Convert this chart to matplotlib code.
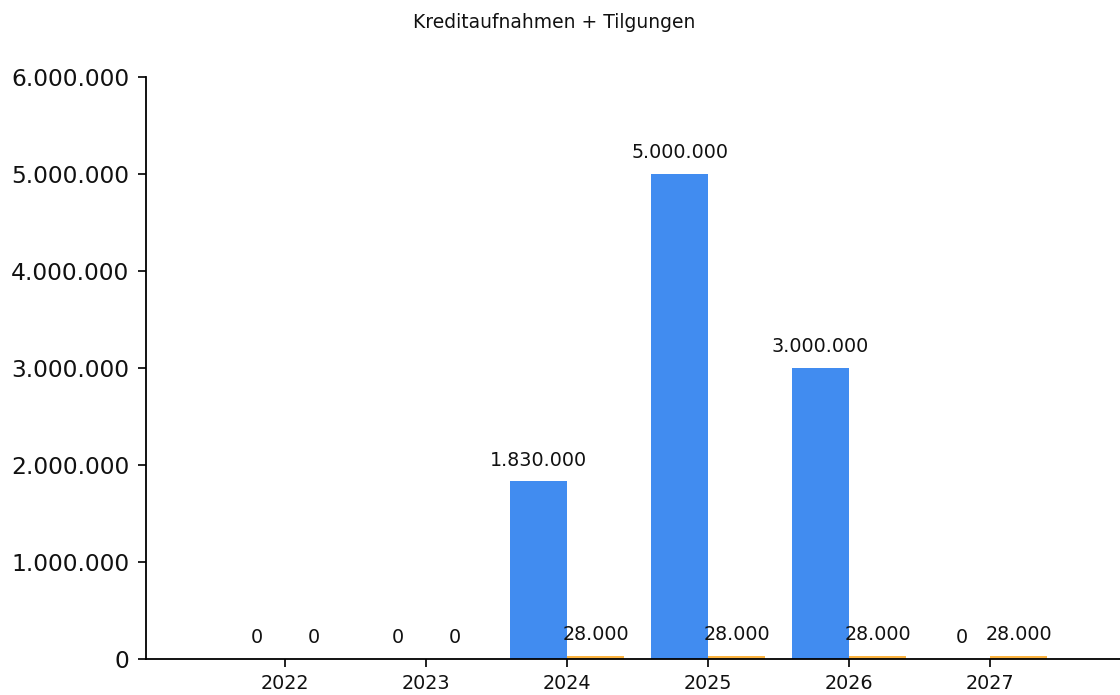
import numpy as np
import matplotlib
matplotlib.use("Agg")
import matplotlib.pyplot as plt
from matplotlib.ticker import FuncFormatter

# Daten
jahre = ["2022", "2023", "2024", "2025", "2026", "2027"]
kreditaufnahmen = [0, 0, 1830000, 5000000, 3000000, 0]
tilgungen = [0, 0, 28000, 28000, 28000, 28000]
y_ticks = [0, 1000000, 2000000, 3000000, 4000000, 5000000, 6000000]

blau = "#418CF0"
orange = "#FCB441"


def de_format(v, pos=None):
    # deutsche Tausendertrennung
    return f"{int(round(v)):,}".replace(",", ".")


fig = plt.figure(figsize=(11.2, 6.95), dpi=100)
ax = fig.add_axes([0.1304, 0.0518, 0.8696, 0.8374])

x = np.arange(len(jahre))
breite = 0.405
b1 = ax.bar(x - breite / 2, kreditaufnahmen, breite, color=blau)
b2 = ax.bar(x + breite / 2, tilgungen, breite, color=orange)

# Beschriftungen über den Balken
for bars, werte in [(b1, kreditaufnahmen), (b2, tilgungen)]:
    for rect, w in zip(bars, werte):
        ax.annotate(de_format(w), (rect.get_x() + rect.get_width() / 2, w),
                    xytext=(0, 8.5), textcoords="offset points",
                    ha="center", va="bottom", fontsize=13.8, color="#111111")

ax.set_xlim(-0.985, 5.92)
ax.set_ylim(0, 6000000)
ax.set_yticks(y_ticks)
ax.yaxis.set_major_formatter(FuncFormatter(de_format))
ax.set_xticks(x)
ax.set_xticklabels(jahre)

ax.spines["top"].set_visible(False)
ax.spines["right"].set_visible(False)
ax.spines["left"].set_linewidth(1.3)
ax.spines["bottom"].set_linewidth(1.3)
ax.tick_params(axis="y", labelsize=16.8, length=6, width=1.3, pad=6, colors="#111111")
ax.tick_params(axis="x", labelsize=13.8, length=6, width=1.3, pad=4.5, colors="#111111")

fig.text(0.495, 0.968, "Kreditaufnahmen + Tilgungen", ha="center", va="center",
         fontsize=13.5, color="#111111")

fig.savefig("out.png", dpi=100)
